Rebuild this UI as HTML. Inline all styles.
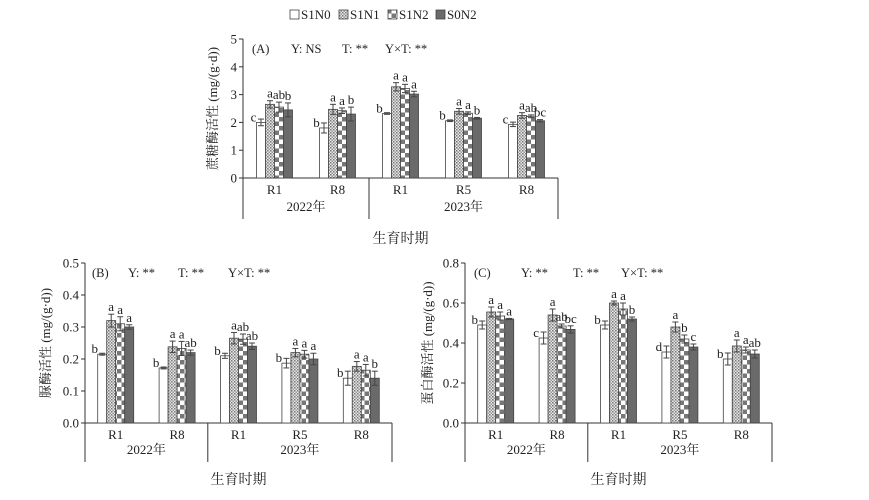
<!DOCTYPE html>
<html><head><meta charset="utf-8"><style>
html,body{margin:0;padding:0;background:#fff;width:869px;height:500px;overflow:hidden}
svg text{font-family:"Liberation Serif","Noto Serif CJK SC",serif;fill:#222}
</style></head><body>
<svg id="s" width="869" height="500" xmlns="http://www.w3.org/2000/svg">
<defs>
<pattern id="p1" width="3" height="3" patternUnits="userSpaceOnUse"><rect width="3" height="3" fill="#e8e8e8"/><rect width="1.5" height="1.5" fill="#777"/><rect x="1.5" y="1.5" width="1.5" height="1.5" fill="#999"/></pattern>
<pattern id="p2" width="9" height="9" patternUnits="userSpaceOnUse"><rect width="9" height="9" fill="#fff"/><rect width="4.5" height="4.5" fill="#777"/><rect x="4.5" y="4.5" width="4.5" height="4.5" fill="#777"/></pattern>
</defs>
<g id="g"></g>
</svg>
<script>
var g=document.getElementById('g'),h='';
function T(x,y,t,o){o=o||{};h+='<text x="'+x+'" y="'+y+'" font-size="'+(o.fs||12)+'" text-anchor="'+(o.a||'middle')+'"'+(o.tr?' transform="'+o.tr+'"':'')+'>'+t+'</text>';}
function L(x1,y1,x2,y2,c){h+='<line x1="'+x1+'" y1="'+y1+'" x2="'+x2+'" y2="'+y2+'" stroke="'+(c||'#333')+'" stroke-width="1"/>';}
var fills=['#fff','url(#p1)','url(#p2)','#6a6a6a'];
function panel(P){
 var ax=P.ax,y0=P.y0,yt=P.yt,xe=P.xe,cw=(xe-ax)/5,sc=(y0-yt)/P.max;
 L(ax,yt,ax,P.yb);L(ax,y0,xe,y0);L(xe,y0,xe,P.yb);L(ax+2*cw,y0,ax+2*cw,P.yb);
 for(var i=0;i<=P.n;i++){var v=P.max*i/P.n,y=y0-v*sc;L(ax-4,y,ax,y);T(ax-6,y+4.5,v.toFixed(P.dec),{a:'end',fs:13});}
 var cats=['R1','R8','R1','R5','R8'];
 for(var c=0;c<5;c++){var cx=ax+cw*(c+.5);T(cx,y0+16,cats[c],{fs:13});
  var d=P.d[c];for(var k=0;k<4;k++){var x=cx-18+k*9,v=d[0][k],e=d[1][k],y=y0-v*sc;
   h+='<rect x="'+x+'" y="'+y+'" width="9" height="'+(v*sc)+'" fill="'+fills[k]+'" stroke="#444" stroke-width="0.8"/>';
   var ym=y-e*sc;L(x+4.5,y-e*sc,x+4.5,y+e*sc,'#444');L(x+1.5,ym,x+7.5,ym,'#444');L(x+1.5,y+e*sc,x+7.5,y+e*sc,'#444');
   var lab=d[2][k];if(k==0)T(x-3,y-1,lab,{fs:13});else T(x+4.5,ym-3,lab,{fs:13});}}
 T(ax+cw,P.yb-8,'2022年',{fs:13});T(ax+3.5*cw,P.yb-8,'2023年',{fs:13});
 T(ax+2.5*cw,P.xt,'生育时期',{fs:14});
 T(P.yx,(yt+y0)/2,P.yl,{fs:13,tr:'rotate(-90 '+P.yx+' '+(yt+y0)/2+')'});
 P.ann.forEach(function(a){T(a[0],yt+14,a[1],{a:'start',fs:12.5});});
}
panel({ax:243,y0:178,yt:39,xe:558,yb:219,max:5,n:5,dec:0,xt:243,yx:217,yl:'蔗糖酶活性 (mg/(g·d))',
 ann:[[252,'(A)'],[291,'Y: NS'],[342,'T: **'],[385,'Y×T: **']],
 d:[[[2.0,2.65,2.55,2.45],[.12,.13,.18,.25],['c','a','ab','b']],
 [[1.8,2.47,2.42,2.3],[.18,.18,.1,.25],['b','a','a','b']],
 [[2.32,3.28,3.22,3.02],[.03,.15,.15,.1],['b','a','a','a']],
 [[2.06,2.4,2.33,2.15],[.03,.1,.05,.03],['b','a','a','b']],
 [[1.93,2.25,2.22,2.06],[.08,.1,.05,.04],['c','a','ab','bc']]]});
panel({ax:85,y0:423,yt:263,xe:392,yb:462,max:.5,n:5,dec:1,xt:484,yx:50,yl:'脲酶活性 (mg/(g·d))',
 ann:[[92,'(B)'],[128,'Y: **'],[178,'T: **'],[228,'Y×T: **']],
 d:[[[.215,.32,.31,.30],[.003,.02,.022,.007],['b','a','a','a']],
 [[.172,.238,.233,.22],[.003,.018,.022,.008],['b','a','a','ab']],
 [[.21,.265,.262,.24],[.008,.018,.016,.01],['b','a','ab','ab']],
 [[.187,.22,.215,.2],[.015,.013,.012,.018],['b','a','a','a']],
 [[.14,.177,.165,.14],[.022,.015,.018,.022],['b','a','a','b']]]});
panel({ax:465,y0:423,yt:263,xe:772,yb:462,max:.8,n:4,dec:1,xt:484,yx:432,yl:'蛋白酶活性 (mg/(g·d))',
 ann:[[474,'(C)'],[521,'Y: **'],[573,'T: **'],[621,'Y×T: **']],
 d:[[[.49,.555,.535,.52],[.02,.025,.02,.003],['b','a','a','a']],
 [[.425,.54,.485,.468],[.03,.03,.01,.018],['c','a','ab','bc']],
 [[.49,.6,.57,.52],[.02,.01,.03,.01],['b','a','a','b']],
 [[.355,.48,.42,.38],[.03,.025,.02,.015],['d','a','b','c']],
 [[.32,.385,.365,.345],[.03,.03,.015,.02],['b','a','a','ab']]]});
var lg=[[290,'S1N0'],[339,'S1N1'],[388,'S1N2'],[436,'S0N2']];
lg.forEach(function(l,i){h+='<rect x="'+l[0]+'" y="10" width="9" height="9" fill="'+fills[i]+'" stroke="#444" stroke-width="0.8"/>';T(l[0]+11,19,l[1],{a:'start',fs:13});});
g.innerHTML=h;
</script>
</body></html>
